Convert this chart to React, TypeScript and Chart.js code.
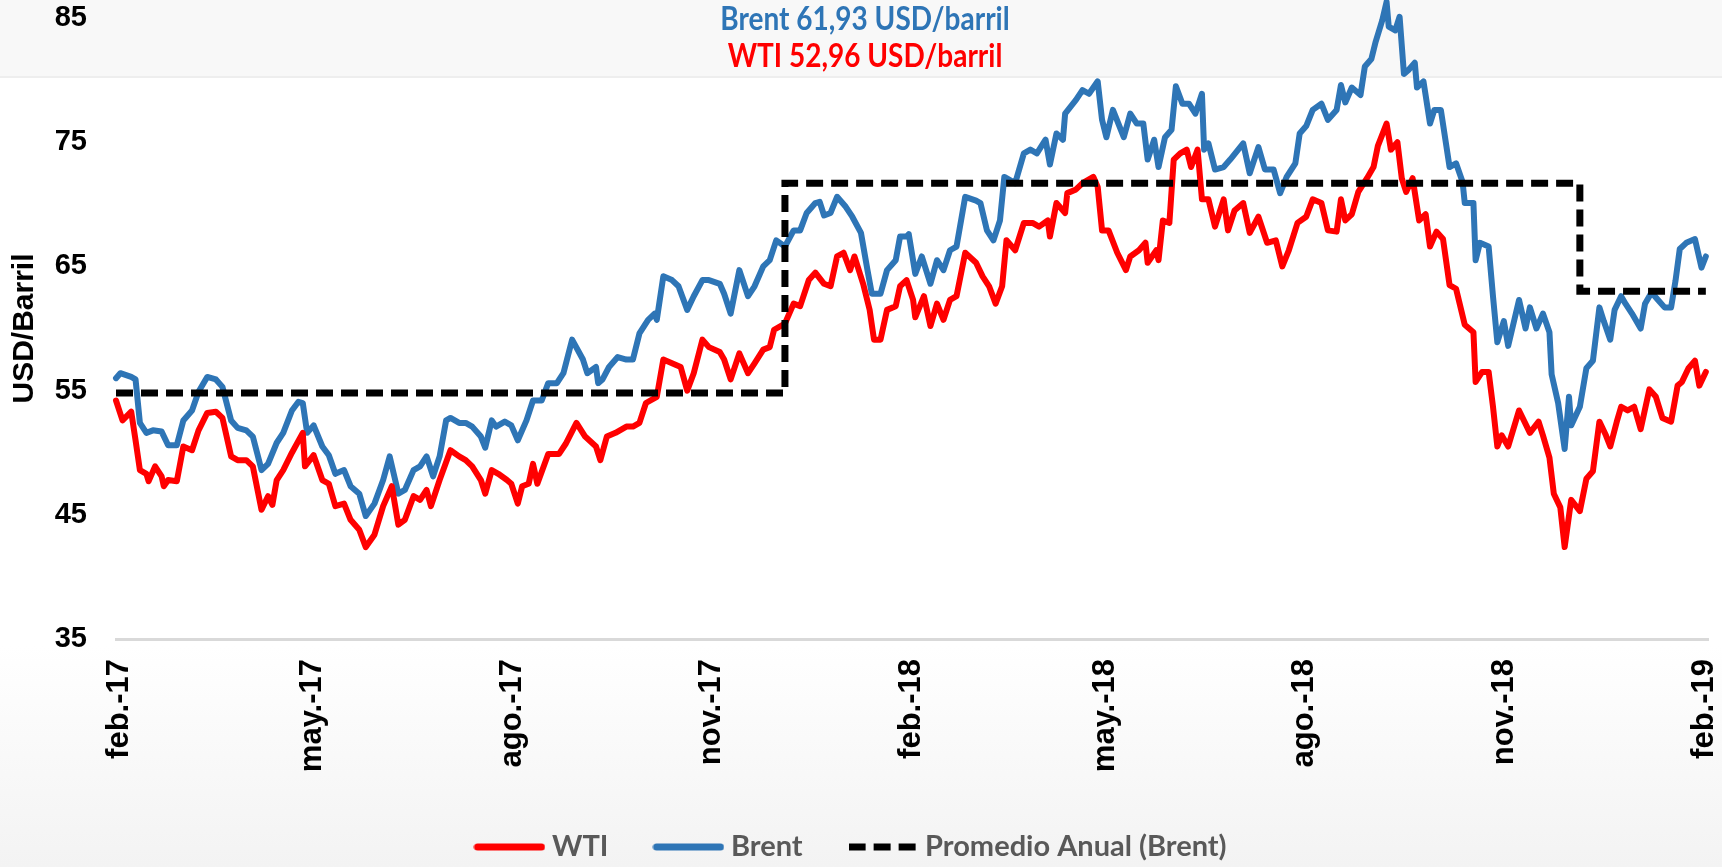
import React, { useEffect, useRef } from "react";
import { Chart, registerables } from "chart.js";

Chart.register(...registerables);

// Days counted from 1 Feb 2017
const brentDays = [
  0, 2, 7, 9, 11, 14, 17, 21, 24, 28, 31, 35, 38, 42, 46, 49, 53, 56, 60, 63,
  67, 70, 74, 77, 81, 84, 86, 88, 91, 95, 98, 101, 105, 108, 112, 115, 119, 123, 126, 130,
  133, 137, 140, 143, 146, 149, 152, 154, 158, 161, 164, 168, 170, 173, 175, 179, 182, 185, 189, 192,
  196, 199, 203, 206, 210, 215, 217, 221, 222, 224, 227, 231, 235, 238, 241, 245, 248, 249, 252, 256,
  259, 263, 266, 270, 273, 278, 280, 283, 287, 291, 294, 298, 301, 304, 308, 312, 315, 318, 322, 324,
  326, 329, 332, 336, 339, 343, 346, 348, 352, 355, 359, 361, 364, 365, 368, 371, 375, 378, 381, 384,
  387, 391, 396, 398, 401, 404, 407, 409, 414, 418, 421, 424, 428, 430, 433, 436, 437, 442, 445, 448,
  452, 454, 456, 459, 464, 467, 470, 473, 475, 478, 480, 483, 486, 488, 491, 494, 497, 500, 501, 503,
  506, 510, 513, 519, 522, 526, 529, 533, 536, 539, 543, 545, 548, 551, 555, 558, 562, 564, 566, 569,
  573, 575, 578, 580, 583, 585, 586, 589, 591, 593, 595, 598, 599, 602, 605, 607, 610, 614, 617, 620,
  621, 625, 626, 628, 632, 634, 636, 639, 641, 646, 649, 651, 654, 657, 660, 661, 664, 667, 669, 670,
  674, 677, 680, 683, 685, 688, 690, 693, 695, 698, 702, 704, 707, 710, 713, 716, 718, 720, 723, 727,
  730, 732,
];
const brent = [
  56.0, 56.4, 56.1, 55.9, 52.4, 51.6, 51.8, 51.7, 50.6, 50.6, 52.6, 53.4, 54.9, 56.1, 55.9, 55.3, 52.6, 52.0, 51.8, 51.3,
  48.6, 49.1, 50.8, 51.6, 53.4, 54.1, 54.0, 51.6, 52.2, 50.5, 49.8, 48.3, 48.6, 47.3, 46.7, 44.9, 45.9, 47.8, 49.7, 46.7,
  47.0, 48.6, 48.9, 49.7, 48.1, 49.7, 52.6, 52.8, 52.4, 52.4, 52.1, 51.3, 50.4, 52.6, 52.1, 52.5, 52.2, 51.0, 52.6, 54.2,
  54.2, 55.6, 55.6, 56.4, 59.1, 57.5, 56.4, 56.9, 55.6, 55.9, 56.9, 57.7, 57.5, 57.5, 59.6, 60.7, 61.2, 60.7, 64.2, 63.9,
  63.4, 61.5, 62.6, 63.9, 63.9, 63.6, 62.8, 61.2, 64.7, 62.6, 63.4, 65.0, 65.5, 67.1, 66.6, 67.9, 67.9, 69.3, 70.1, 70.2,
  69.1, 69.3, 70.6, 69.8, 69.0, 67.7, 64.7, 62.8, 62.8, 64.7, 65.5, 67.4, 67.4, 67.6, 64.4, 65.8, 63.6, 65.5, 64.7, 66.3,
  66.6, 70.6, 70.3, 70.1, 67.9, 67.1, 68.7, 72.2, 71.7, 74.1, 74.4, 74.1, 75.2, 73.2, 75.7, 75.2, 77.3, 78.4, 79.2, 78.9,
  79.9, 76.8, 75.4, 77.6, 75.4, 77.3, 76.5, 76.5, 73.6, 75.2, 73.0, 75.4, 76.0, 79.5, 78.1, 78.1, 77.3, 78.9, 74.4, 74.9,
  72.8, 73.0, 73.6, 74.9, 72.5, 74.6, 72.8, 72.8, 70.9, 72.2, 73.3, 75.7, 76.3, 77.6, 78.1, 76.8, 77.6, 79.6, 78.2, 79.4,
  78.8, 81.1, 81.7, 83.1, 84.8, 86.3, 84.3, 84.0, 85.1, 80.5, 80.8, 81.4, 79.4, 79.9, 76.5, 77.6, 77.6, 73.0, 73.3, 71.8,
  70.1, 70.1, 65.5, 66.9, 66.6, 62.6, 58.9, 60.6, 58.6, 62.3, 60.0, 61.7, 60.0, 61.2, 59.7, 56.3, 54.0, 50.3, 54.5, 52.2,
  53.7, 56.8, 57.4, 61.7, 60.6, 59.1, 61.5, 62.6, 62.0, 61.2, 60.0, 62.0, 62.9, 62.3, 61.7, 61.7, 63.8, 66.4, 66.9, 67.2,
  64.9, 65.8,
];

const wtiDays = [
  0, 3, 7, 9, 11, 14, 15, 18, 21, 22, 24, 28, 31, 35, 38, 42, 46, 49, 53, 56,
  60, 63, 67, 70, 72, 74, 77, 81, 86, 87, 91, 95, 98, 101, 105, 108, 112, 115, 119, 123,
  127, 130, 133, 137, 140, 143, 145, 149, 154, 158, 161, 164, 168, 170, 173, 176, 180, 182, 185, 187,
  190, 192, 194, 199, 204, 207, 212, 216, 221, 223, 226, 230, 235, 238, 241, 244, 249, 252, 256, 260,
  263, 266, 270, 273, 278, 280, 283, 287, 291, 294, 298, 301, 303, 308, 312, 315, 319, 322, 326, 329,
  332, 335, 338, 340, 344, 347, 349, 352, 355, 359, 361, 364, 367, 368, 372, 375, 378, 381, 384, 387,
  391, 396, 399, 402, 405, 408, 410, 414, 418, 422, 425, 429, 430, 433, 437, 438, 442, 445, 450, 452,
  454, 457, 461, 465, 467, 471, 474, 475, 479, 480, 482, 485, 487, 490, 493, 495, 498, 500, 503, 506,
  510, 512, 515, 519, 522, 526, 530, 534, 537, 540, 544, 548, 551, 555, 558, 562, 564, 566, 569, 572,
  576, 579, 581, 585, 587, 590, 592, 594, 597, 600, 603, 605, 608, 611, 614, 617, 621, 625, 626, 629,
  632, 634, 636, 638, 641, 646, 651, 655, 657, 660, 662, 665, 667, 670, 674, 677, 680, 683, 686, 688,
  691, 693, 696, 699, 702, 706, 709, 712, 716, 719, 721, 724, 727, 729, 732,
];
const wti = [
  54.2, 52.6, 53.3, 51.0, 48.6, 48.3, 47.7, 48.9, 48.1, 47.3, 47.8, 47.7, 50.5, 50.2, 51.8, 53.2, 53.3, 52.8, 49.7, 49.4,
  49.4, 48.9, 45.4, 46.5, 45.8, 47.8, 48.6, 50.0, 51.6, 48.9, 49.8, 47.8, 47.5, 45.7, 45.9, 44.6, 43.8, 42.4, 43.4, 45.7,
  47.3, 44.2, 44.6, 46.5, 46.2, 47.0, 45.7, 47.8, 50.2, 49.7, 49.4, 48.9, 47.8, 46.7, 48.6, 48.3, 47.8, 47.5, 45.9, 47.3,
  47.5, 49.1, 47.5, 49.9, 49.9, 50.7, 52.4, 51.3, 50.5, 49.4, 51.3, 51.6, 52.1, 52.1, 52.4, 54.0, 54.5, 57.5, 57.2, 56.9,
  55.0, 56.4, 59.1, 58.5, 58.1, 57.5, 55.9, 58.0, 56.4, 57.2, 58.3, 58.5, 59.9, 60.4, 62.0, 61.8, 63.9, 64.5, 63.6, 63.4,
  65.8, 66.1, 64.7, 65.8, 63.6, 61.5, 59.1, 59.1, 61.5, 61.8, 63.4, 63.9, 62.3, 60.9, 62.6, 60.2, 62.0, 60.7, 62.3, 62.6,
  66.1, 65.3, 64.2, 63.4, 62.0, 63.4, 67.1, 66.3, 68.5, 68.5, 68.2, 68.7, 67.4, 70.1, 69.3, 70.9, 71.2, 71.7, 72.2, 71.4,
  67.9, 67.9, 66.1, 64.7, 65.8, 66.3, 66.9, 65.3, 66.3, 65.5, 68.7, 68.5, 73.6, 74.1, 74.4, 73.0, 74.4, 70.4, 70.4, 68.2,
  70.4, 67.9, 69.5, 70.1, 67.7, 69.0, 66.9, 67.1, 65.0, 66.3, 68.5, 69.0, 70.4, 70.1, 67.9, 67.8, 70.4, 68.7, 69.2, 71.0,
  72.1, 73.0, 74.7, 76.5, 74.4, 75.0, 72.1, 71.0, 72.1, 68.7, 69.2, 66.6, 67.8, 67.2, 63.5, 63.2, 60.3, 59.7, 55.7, 56.5,
  56.5, 53.7, 50.5, 51.4, 50.5, 53.4, 51.6, 52.5, 51.4, 49.6, 46.7, 45.6, 42.4, 46.2, 45.3, 47.9, 48.5, 52.5, 51.4, 50.5,
  52.5, 53.7, 53.4, 53.7, 51.9, 55.1, 54.5, 52.8, 52.5, 55.4, 55.7, 56.8, 57.4, 55.4, 56.5,
];

// Annual average (Brent), step changes
const promDays = [0, 308, 674, 732];
const promBrent = [54.8, 71.7, 63.0, 63.0];

const tickDays = [0, 89, 181, 273, 365, 454, 546, 638, 730];
const tickLabels = ["feb.-17", "may.-17", "ago.-17", "nov.-17", "feb.-18", "may.-18", "ago.-18", "nov.-18", "feb.-19"];

const yMin = 35;
const yMax = 85;
const yStep = 10;

const titleBrent = "Brent 61,93 USD/barril";
const titleWti = "WTI 52,96 USD/barril";
const yTitle = "USD/Barril";

const seriesNames = ["WTI", "Brent", "Promedio Anual (Brent)"];
const seriesColors = ["#FF0000", "#2E75B6", "#000000"];

const W = 1722;
const H = 867;
const HUMAN = "Lato, 'Open Sans', sans-serif";
const SANS = "'Liberation Sans', Arial, sans-serif";

function makeLineSample(color: string): HTMLCanvasElement {
  const c = document.createElement("canvas");
  c.width = 72;
  c.height = 8;
  const ctx = c.getContext("2d")!;
  ctx.strokeStyle = color;
  ctx.lineWidth = 7;
  ctx.lineCap = "round";
  ctx.beginPath();
  ctx.moveTo(4, 4);
  ctx.lineTo(68, 4);
  ctx.stroke();
  return c;
}

function makeDashSample(color: string): HTMLCanvasElement {
  const c = document.createElement("canvas");
  c.width = 68;
  c.height = 8;
  const ctx = c.getContext("2d")!;
  ctx.fillStyle = color;
  ctx.fillRect(0, 0.5, 17, 7);
  ctx.fillRect(25, 0.5, 17, 7);
  ctx.fillRect(50, 0.5, 17, 7);
  return c;
}

export default function App() {
  const ref = useRef<HTMLCanvasElement>(null);

  useEffect(() => {
    document.body.style.margin = "0";
    document.body.style.overflow = "hidden";
    const canvas = ref.current;
    if (!canvas) return;
    const samples = [makeLineSample(seriesColors[0]), makeLineSample(seriesColors[1]), makeDashSample(seriesColors[2])];
    const chart = new Chart(canvas, {
      type: "line",
      data: {
        datasets: [
          {
            label: seriesNames[0],
            data: wtiDays.map((d, i) => ({ x: d, y: wti[i] })),
            borderColor: seriesColors[0],
            backgroundColor: seriesColors[0],
            borderWidth: 6,
            pointRadius: 0,
            borderCapStyle: "round",
            borderJoinStyle: "round",
            tension: 0,
            clip: false,
            order: 1,
          },
          {
            label: seriesNames[1],
            data: brentDays.map((d, i) => ({ x: d, y: brent[i] })),
            borderColor: seriesColors[1],
            backgroundColor: seriesColors[1],
            borderWidth: 6,
            pointRadius: 0,
            borderCapStyle: "round",
            borderJoinStyle: "round",
            tension: 0,
            clip: false,
            order: 2,
          },
          {
            label: seriesNames[2],
            data: promDays.map((d, i) => ({ x: d, y: promBrent[i] })),
            borderColor: seriesColors[2],
            backgroundColor: seriesColors[2],
            borderWidth: 7,
            borderDash: [17, 8],
            borderCapStyle: "butt",
            stepped: "before",
            pointRadius: 0,
            clip: false,
            order: 0,
          },
        ],
      },
      options: {
        responsive: false,
        animation: false,
        events: [],
        layout: { padding: { top: 18, right: 14, left: 0, bottom: 0 } },
        scales: {
          x: {
            type: "linear",
            min: 0,
            max: 733,
            afterBuildTicks: (s: any) => {
              s.ticks = tickDays.map((v) => ({ value: v }));
            },
            afterFit: (s: any) => {
              s.height = 141.5;
              s.paddingLeft = 0;
              s.paddingRight = 0;
            },
            grid: { display: false, drawTicks: false },
            border: { display: true, color: "#D9D9D9", width: 3 },
            ticks: {
              autoSkip: false,
              maxRotation: 90,
              minRotation: 90,
              padding: 20,
              labelOffset: 3,
              color: "#000000",
              font: { family: SANS, size: 31, weight: "bold" },
              callback: (_v: any, i: number) => tickLabels[i],
            },
          },
          y: {
            min: yMin,
            max: yMax,
            afterFit: (s: any) => {
              s.width = 116;
              s.paddingTop = 0;
              s.paddingBottom = 0;
            },
            grid: { display: false, drawTicks: false },
            border: { display: false },
            ticks: {
              stepSize: yStep,
              padding: 29,
              color: "#000000",
              font: { family: SANS, size: 29, weight: "bold" },
            },
            title: {
              display: true,
              text: yTitle,
              color: "#000000",
              font: { family: SANS, size: 30, weight: "bold" },
              padding: { top: 7, bottom: 12 },
            },
          },
        },
        plugins: {
          tooltip: { enabled: false },
          legend: {
            position: "bottom",
            maxHeight: 86.5,
            labels: {
              usePointStyle: true,
              pointStyleWidth: 56,
              padding: 52,
              color: "#595959",
              font: { family: HUMAN, size: 29, weight: "bold" },
              generateLabels: (c: any) => {
                const items = Chart.defaults.plugins.legend.labels.generateLabels(c);
                items.forEach((it: any) => {
                  it.pointStyle = samples[it.datasetIndex];
                  it.lineWidth = 7;
                });
                return items.sort((a: any, b: any) => a.datasetIndex - b.datasetIndex);
              },
            },
          },
        },
      },
    } as any);
    return () => chart.destroy();
  }, []);

  const titleStyle = {
    position: "absolute" as const,
    left: 0,
    width: 1730,
    textAlign: "center" as const,
    font: `bold 28px ${HUMAN}`,
    lineHeight: "28px",
    whiteSpace: "nowrap" as const,
    transform: "scaleY(1.15)",
  };

  return (
    <div style={{ position: "fixed", left: 0, top: 0, width: W, height: H, background: "#ffffff", overflow: "hidden" }}>
      <div style={{ position: "absolute", left: 0, top: 0, width: W, height: 76, background: "#f8f8f8", borderBottom: "2px solid #eeeeee" }} />
      <div style={{ position: "absolute", left: 0, top: 645, width: W, height: H - 645, background: "linear-gradient(#ffffff, #f3f3f3)" }} />
      <canvas ref={ref} width={W} height={H} style={{ position: "absolute", left: 0, top: 0, width: W, height: H }} />
      <div style={{ ...titleStyle, top: 3, color: "#2E75B6" }}>{titleBrent}</div>
      <div style={{ ...titleStyle, top: 40, color: "#FF0000" }}>{titleWti}</div>
    </div>
  );
}
